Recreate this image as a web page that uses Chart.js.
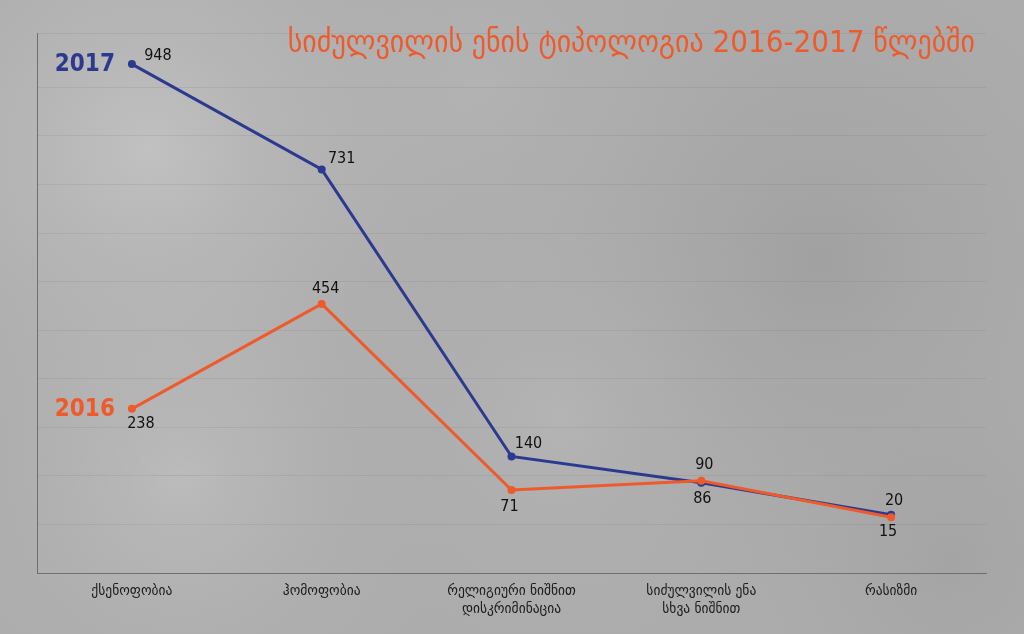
<!DOCTYPE html>
<html><head><meta charset="utf-8">
<script src="https://cdn.jsdelivr.net/npm/chart.js@4/dist/chart.umd.min.js"></script>
<style>html,body{margin:0;padding:0;background:#aaa;overflow:hidden}#wrap{width:1024px;height:634px}</style>
</head><body><div id="wrap"><canvas id="c" width="1024" height="634"></canvas></div>
<script>
const titleText = 'სიძულვილის ენის ტიპოლოგია 2016-2017 წლებში';
const categories = ['ქსენოფობია', 'ჰომოფობია', ['რელიგიური ნიშნით', 'დისკრიმინაცია'], ['სიძულვილის ენა', 'სხვა ნიშნით'], 'რასიზმი'];
const seriesNames = ['2017', '2016'];
const values2017 = [948, 731, 140, 86, 20];
const values2016 = [238, 454, 71, 90, 15];
const yMin = -100, yMax = 1012, yStep = 100;

// label placement (pixel offsets from each point) — styling only
const labelOffsets = [
  [[26,-8],[20,-11],[17,-13],[1,16],[3,-14]],
  [[9,15],[4,-15],[-2,17],[3,-16],[-3,15]]
];
const BLUE = '#2b3a8f', ORANGE = '#ef5a2b';

const bgPlugin = {
  id: 'bg',
  beforeDraw(chart) {
    const {ctx, width, height} = chart;
    ctx.save();
    ctx.fillStyle = '#acacac';
    ctx.fillRect(0, 0, width, height);
    const blobs = [[150,150,380,'rgba(210,210,210,0.55)'],[180,480,300,'rgba(205,205,205,0.45)'],
                   [820,260,380,'rgba(135,135,135,0.3)'],[560,420,260,'rgba(195,195,195,0.35)'],
                   [480,80,300,'rgba(190,190,190,0.35)'],[950,560,250,'rgba(145,145,145,0.3)']];
    for (const [x,y,r,c] of blobs) {
      const g = ctx.createRadialGradient(x,y,0,x,y,r);
      g.addColorStop(0,c); g.addColorStop(1,'rgba(172,172,172,0)');
      ctx.fillStyle = g; ctx.fillRect(0,0,width,height);
    }
    ctx.restore();
  }
};

const labelPlugin = {
  id: 'labels',
  afterDatasetsDraw(chart) {
    const ctx = chart.ctx;
    ctx.save();
    chart.data.datasets.forEach((ds, di) => {
      const meta = chart.getDatasetMeta(di);
      ctx.font = '16px "DejaVu Sans Condensed"';
      ctx.fillStyle = '#111';
      ctx.textAlign = 'center';
      ctx.textBaseline = 'middle';
      meta.data.forEach((pt, i) => {
        const [dx, dy] = labelOffsets[di][i];
        ctx.fillText(String(ds.data[i]), pt.x + dx, pt.y + dy);
      });
      const p0 = meta.data[0];
      ctx.font = 'bold 24px "DejaVu Sans Condensed"';
      ctx.fillStyle = ds.borderColor;
      ctx.textAlign = 'right';
      ctx.fillText(ds.label, p0.x - 17, p0.y + 1);
    });
    ctx.restore();
  }
};

const titlePlugin = {
  id: 'titleDraw',
  afterDraw(chart) {
    const ctx = chart.ctx;
    ctx.save();
    ctx.font = '31px "DejaVu Sans Condensed"';
    ctx.fillStyle = ORANGE;
    ctx.textAlign = 'right';
    ctx.textBaseline = 'alphabetic';
    ctx.fillText(titleText, 975, 52);
    ctx.restore();
  }
};

new Chart(document.getElementById('c'), {
  type: 'line',
  data: {
    labels: categories,
    datasets: [
      {label: seriesNames[0], data: values2017, borderColor: BLUE, backgroundColor: BLUE, order: 1,
       borderWidth: 3, pointRadius: 4, pointBackgroundColor: BLUE, pointBorderWidth: 0, tension: 0},
      {label: seriesNames[1], data: values2016, borderColor: ORANGE, backgroundColor: ORANGE, order: 0,
       borderWidth: 3, pointRadius: 4, pointBackgroundColor: ORANGE, pointBorderWidth: 0, tension: 0}
    ]
  },
  options: {
    responsive: false,
    devicePixelRatio: 1,
    animation: false,
    layout: {padding: {left: 37, top: 33, right: 38, bottom: 0}},
    plugins: {legend: {display: false}, title: {display: false}, tooltip: {enabled: false}},
    scales: {
      x: {
        offset: true,
        grid: {display: false, drawTicks: false},
        border: {display: true, color: '#6f6f6f', width: 1},
        ticks: {color: '#1c1c1c', font: {family: '"DejaVu Sans Condensed"', size: 15}, maxRotation: 0, autoSkip: false, padding: 9},
        afterFit(s) { s.height = 61; }
      },
      y: {
        min: yMin, max: yMax,
        grid: {display: true, color: 'rgba(105,105,105,0.14)', drawTicks: false},
        border: {display: true, color: '#6f6f6f', width: 1},
        ticks: {display: false, stepSize: yStep},
        afterFit(s) { s.width = 0; }
      }
    }
  },
  plugins: [bgPlugin, labelPlugin, titlePlugin]
});
</script></body></html>
